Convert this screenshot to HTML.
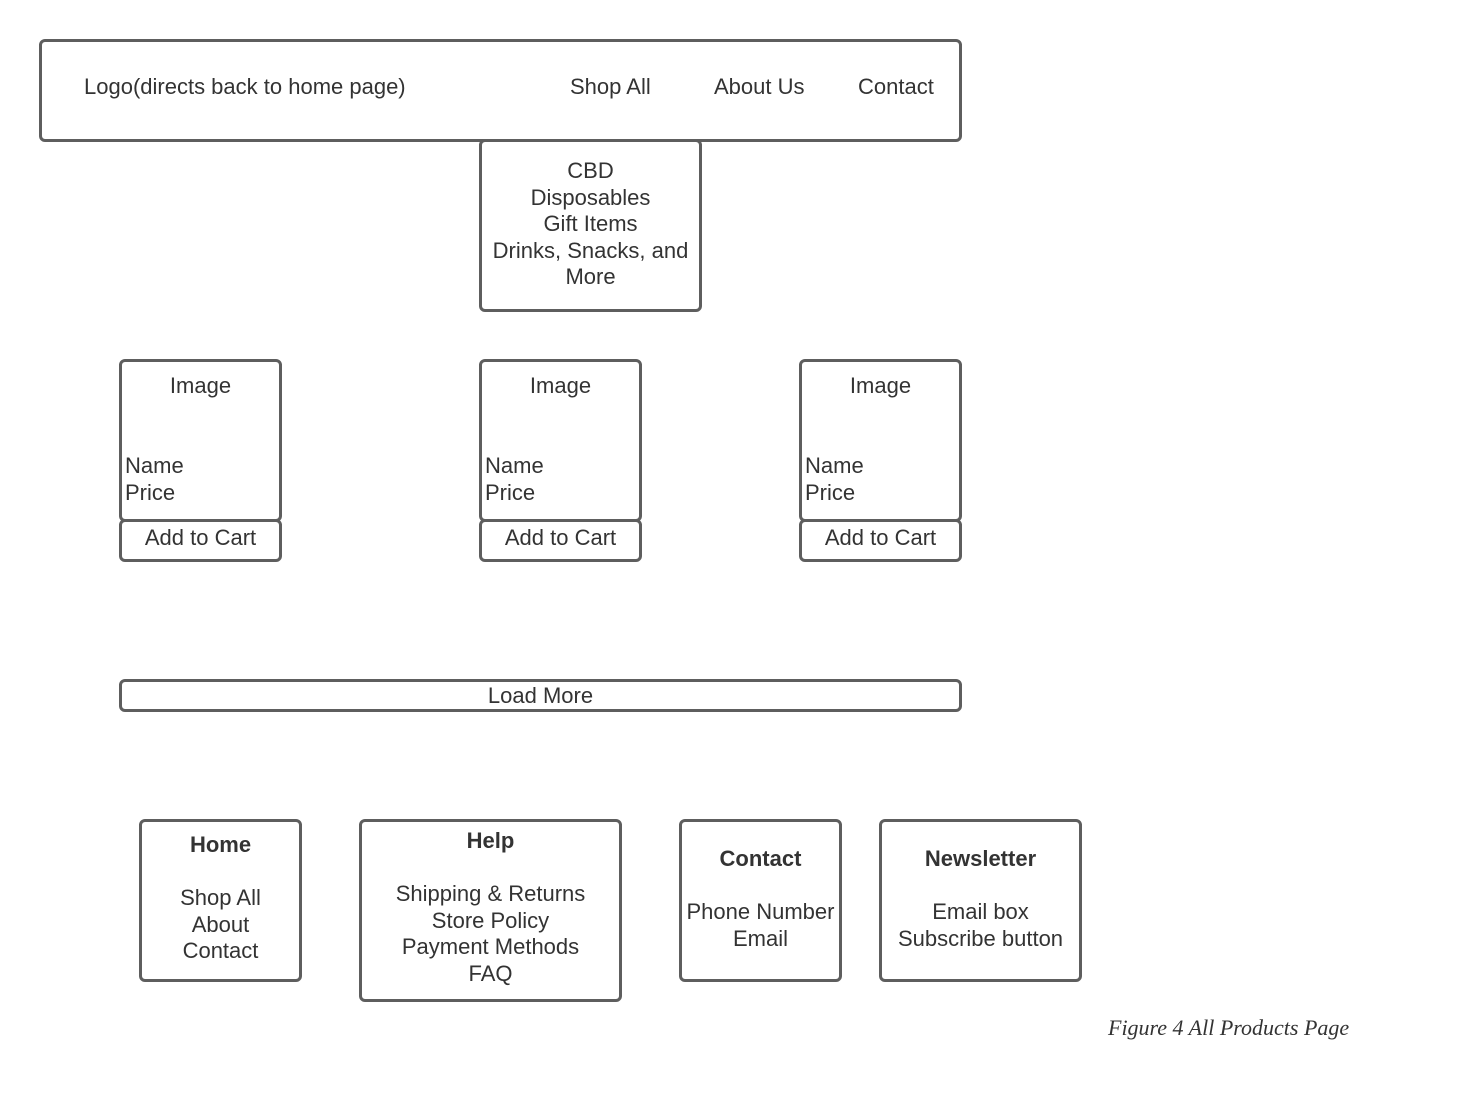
<!DOCTYPE html>
<html><head><meta charset="utf-8"><style>
body{margin:0;width:1460px;height:1103px;background:#fff;position:relative;overflow:hidden;font-family:"Liberation Sans",sans-serif;color:#333;}
.b{position:absolute;border:3px solid #5e5e5e;border-radius:6px;box-sizing:border-box;}
.t{position:absolute;font-size:22px;line-height:26.6px;white-space:nowrap;}
.c{text-align:center;}
</style></head><body>
<div class="b" style="left:39px;top:39px;width:923px;height:103px"></div>
<div class="t" style="left:84px;top:74px">Logo(directs back to home page)</div>
<div class="t" style="left:570px;top:74px">Shop All</div>
<div class="t" style="left:714px;top:74px">About Us</div>
<div class="t" style="left:858px;top:74px">Contact</div>

<div class="b" style="left:479px;top:139px;width:223px;height:173px"></div>
<div class="t c" style="left:479px;width:223px;top:158px">CBD<br>Disposables<br>Gift Items<br>Drinks, Snacks, and<br>More</div>

<div class="b" style="left:119px;top:359px;width:163px;height:163px"></div>
<div class="t c" style="left:119px;width:163px;top:373px">Image</div>
<div class="t" style="left:125px;top:453px">Name<br>Price</div>
<div class="b" style="left:119px;top:519px;width:163px;height:43px"></div>
<div class="t c" style="left:119px;width:163px;top:525px">Add to Cart</div>

<div class="b" style="left:479px;top:359px;width:163px;height:163px"></div>
<div class="t c" style="left:479px;width:163px;top:373px">Image</div>
<div class="t" style="left:485px;top:453px">Name<br>Price</div>
<div class="b" style="left:479px;top:519px;width:163px;height:43px"></div>
<div class="t c" style="left:479px;width:163px;top:525px">Add to Cart</div>

<div class="b" style="left:799px;top:359px;width:163px;height:163px"></div>
<div class="t c" style="left:799px;width:163px;top:373px">Image</div>
<div class="t" style="left:805px;top:453px">Name<br>Price</div>
<div class="b" style="left:799px;top:519px;width:163px;height:43px"></div>
<div class="t c" style="left:799px;width:163px;top:525px">Add to Cart</div>

<div class="b" style="left:119px;top:679px;width:843px;height:33px"></div>
<div class="t c" style="left:119px;width:843px;top:683px">Load More</div>

<div class="b" style="left:139px;top:819px;width:163px;height:163px"></div>
<div class="t c" style="left:139px;width:163px;top:832px"><b>Home</b><br><br>Shop All<br>About<br>Contact</div>

<div class="b" style="left:359px;top:819px;width:263px;height:183px"></div>
<div class="t c" style="left:359px;width:263px;top:828px"><b>Help</b><br><br>Shipping &amp; Returns<br>Store Policy<br>Payment Methods<br>FAQ</div>

<div class="b" style="left:679px;top:819px;width:163px;height:163px"></div>
<div class="t c" style="left:679px;width:163px;top:846px"><b>Contact</b><br><br>Phone Number<br>Email</div>

<div class="b" style="left:879px;top:819px;width:203px;height:163px"></div>
<div class="t c" style="left:879px;width:203px;top:846px"><b>Newsletter</b><br><br>Email box<br>Subscribe button</div>

<div class="t" style="left:1108px;top:1015px;font-family:'Liberation Serif',serif;font-style:italic;font-size:22px">Figure 4 All Products Page</div>
</body></html>
